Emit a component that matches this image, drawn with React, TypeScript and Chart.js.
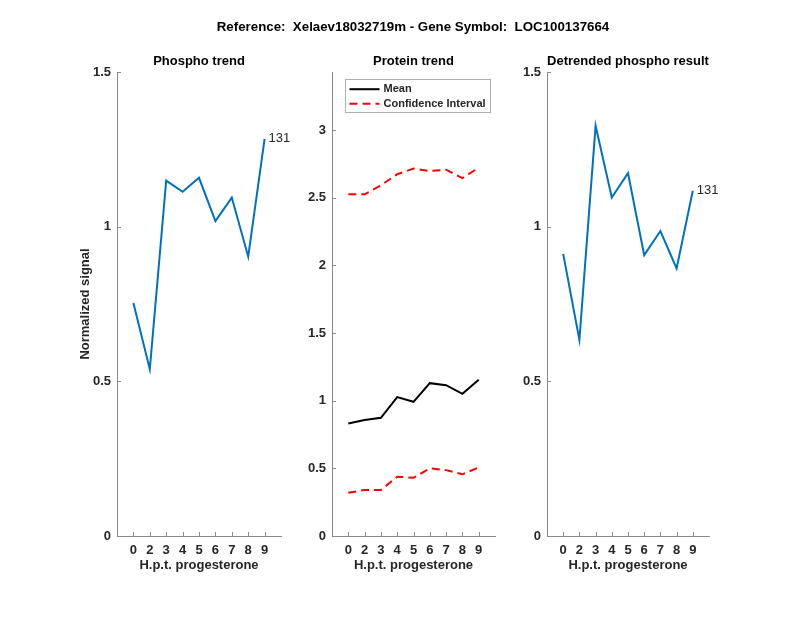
import React, { useEffect, useRef } from 'react';
import { Chart, registerables } from 'chart.js';

Chart.register(...registerables);

// ---------- data ----------
const categories = ['0', '2', '3', '4', '5', '6', '7', '8', '9'];
const phospho = [0.753, 0.539, 1.149, 1.113, 1.158, 1.018, 1.094, 0.903, 1.284];
const proteinMean = [0.832, 0.857, 0.874, 1.027, 0.992, 1.13, 1.115, 1.051, 1.155];
const ciUpper = [2.526, 2.526, 2.592, 2.674, 2.716, 2.698, 2.708, 2.646, 2.723];
const ciLower = [0.32, 0.34, 0.34, 0.438, 0.431, 0.5, 0.487, 0.456, 0.507];
const detrended = [0.912, 0.634, 1.326, 1.094, 1.173, 0.908, 0.986, 0.865, 1.116];
const signalTicks = [0, 0.5, 1, 1.5];
const proteinTicks = [0, 0.5, 1, 1.5, 2, 2.5, 3];
const signalMax = 1.5;
const proteinMax = 3.43;
const suptitle = 'Reference:  Xelaev18032719m - Gene Symbol:  LOC100137664';
const panelTitles = ['Phospho trend', 'Protein trend', 'Detrended phospho result'];
const xTitle = 'H.p.t. progesterone';
const yTitle = 'Normalized signal';
const peptideLabel = '131';
const legendLabels = ['Mean', 'Confidence Interval'];

// ---------- style / layout ----------
const W = 800;
const H = 618;
const FONT = '"Liberation Sans", Arial, Helvetica, sans-serif';
const TEXT = '#262626';
const AXIS = '#8a8a8a';
const BLUE = '#0072BD';
const RED = '#FF0000';
const BLACK = '#000000';
const CHART_TOP = 72;
const CHART_BOTTOM = 536;
const Y_AXIS_W = 60;
const X_AXIS_H = 50;
const panels = [
  { left: 117, right: 281 },
  { left: 332, right: 495 },
  { left: 547, right: 709 },
];

const inwardTicks = {
  id: 'inwardTicks',
  afterDraw(chart: any) {
    const { ctx, chartArea, scales } = chart;
    ctx.save();
    ctx.strokeStyle = AXIS;
    ctx.lineWidth = 1;
    ctx.beginPath();
    scales.x.ticks.forEach((t: any) => {
      const px = Math.round(scales.x.getPixelForValue(t.value)) + 0.5;
      ctx.moveTo(px, chartArea.bottom);
      ctx.lineTo(px, chartArea.bottom - 4);
    });
    scales.y.ticks.forEach((t: any) => {
      const py = Math.round(scales.y.getPixelForValue(t.value)) + 0.5;
      ctx.moveTo(chartArea.left, py);
      ctx.lineTo(chartArea.left + 4, py);
    });
    ctx.stroke();
    ctx.restore();
  },
};

const endLabel = {
  id: 'endLabel',
  afterDatasetsDraw(chart: any, _args: any, opts: any) {
    if (!opts || !opts.text) return;
    const meta = chart.getDatasetMeta(0);
    const pt = meta.data[meta.data.length - 1];
    if (!pt) return;
    const { ctx } = chart;
    ctx.save();
    ctx.font = `13px ${FONT}`;
    ctx.fillStyle = TEXT;
    ctx.textAlign = 'left';
    ctx.textBaseline = 'middle';
    ctx.fillText(opts.text, pt.x + 4, pt.y);
    ctx.restore();
  },
};

const boxLegend = {
  id: 'boxLegend',
  afterDraw(chart: any, _args: any, opts: any) {
    if (!opts || !opts.items) return;
    const { ctx, chartArea } = chart;
    const items = opts.items as { label: string; color: string; dash: number[] }[];
    ctx.save();
    ctx.font = `bold 11px ${FONT}`;
    const tw = Math.max(...items.map((it) => ctx.measureText(it.label).width));
    const bx = chartArea.left + 13.5;
    const by = chartArea.top + 7.5;
    const bw = Math.round(38 + tw + 5);
    const bh = 33;
    ctx.fillStyle = '#ffffff';
    ctx.fillRect(bx, by, bw, bh);
    ctx.strokeStyle = '#b0b0b0';
    ctx.lineWidth = 1;
    ctx.strokeRect(bx, by, bw, bh);
    items.forEach((it, i) => {
      const y = by + 9.7 + i * 14.6;
      ctx.strokeStyle = it.color;
      ctx.lineWidth = 2;
      ctx.setLineDash(it.dash);
      ctx.beginPath();
      ctx.moveTo(bx + 4, y);
      ctx.lineTo(bx + 34, y);
      ctx.stroke();
      ctx.setLineDash([]);
      ctx.fillStyle = TEXT;
      ctx.textAlign = 'left';
      ctx.textBaseline = 'middle';
      ctx.fillText(it.label, bx + 38, y);
    });
    ctx.restore();
  },
};

const toPoints = (vals: number[]) => categories.map((_, i) => ({ x: i, y: vals[i] }));

function makeConfig(
  idx: number,
  datasets: any[],
  yMax: number,
  yTicks: number[],
  extra: { endText?: string; legendItems?: any[]; yLabel?: string }
) {
  const p = panels[idx];
  const tickFont = { family: FONT, size: 13, weight: 'bold' as const };
  const noGrid = { display: false, drawTicks: false, tickLength: 0 };
  return {
    type: 'line' as const,
    data: { datasets },
    plugins: [inwardTicks, endLabel, boxLegend],
    options: {
      responsive: false,
      animation: false as const,
      devicePixelRatio: 1,
      events: [],
      layout: {
        padding: {
          left: p.left - Y_AXIS_W,
          right: W - p.right,
          top: CHART_TOP,
          bottom: H - CHART_BOTTOM - X_AXIS_H,
        },
      },
      elements: { point: { radius: 0 }, line: { tension: 0 } },
      plugins: {
        legend: { display: false },
        tooltip: { enabled: false },
        title: { display: false },
        endLabel: extra.endText ? { text: extra.endText } : {},
        boxLegend: extra.legendItems ? { items: extra.legendItems } : {},
      },
      scales: {
        x: {
          type: 'linear' as const,
          min: -1,
          max: categories.length,
          afterBuildTicks: (s: any) => {
            s.ticks = categories.map((_, i) => ({ value: i }));
          },
          afterFit: (s: any) => {
            s.height = X_AXIS_H;
          },
          ticks: {
            autoSkip: false,
            maxRotation: 0,
            padding: 7,
            color: TEXT,
            font: tickFont,
            callback: (v: any) => categories[v] ?? '',
          },
          grid: noGrid,
          border: { display: true, color: AXIS, width: 1 },
          title: {
            display: true,
            text: xTitle,
            color: TEXT,
            font: tickFont,
            padding: { top: 0, bottom: 12.7 },
          },
        },
        y: {
          type: 'linear' as const,
          min: 0,
          max: yMax,
          afterBuildTicks: (s: any) => {
            s.ticks = yTicks.map((v) => ({ value: v }));
          },
          afterFit: (s: any) => {
            s.width = Y_AXIS_W;
          },
          ticks: {
            padding: 6,
            color: TEXT,
            font: tickFont,
            callback: (v: any) => String(v),
          },
          grid: noGrid,
          border: { display: true, color: AXIS, width: 1 },
          title: {
            display: !!extra.yLabel,
            text: extra.yLabel || '',
            color: TEXT,
            font: tickFont,
            padding: { top: 20.2, bottom: 0 },
          },
        },
      },
    },
  };
}

function Panel({ config }: { config: any }) {
  const ref = useRef<HTMLCanvasElement | null>(null);
  useEffect(() => {
    if (!ref.current) return;
    const chart = new Chart(ref.current, config);
    return () => chart.destroy();
  }, [config]);
  return (
    <canvas
      ref={ref}
      width={W}
      height={H}
      style={{ position: 'absolute', left: 0, top: 0, width: W, height: H }}
    />
  );
}

const configs = [
  makeConfig(
    0,
    [{ label: 'Phospho', data: toPoints(phospho), borderColor: BLUE, borderWidth: 2 }],
    signalMax,
    signalTicks,
    { endText: peptideLabel, yLabel: yTitle }
  ),
  makeConfig(
    1,
    [
      { label: legendLabels[0], data: toPoints(proteinMean), borderColor: BLACK, borderWidth: 2 },
      { label: legendLabels[1], data: toPoints(ciUpper), borderColor: RED, borderWidth: 2, borderDash: [8, 5] },
      { label: legendLabels[1], data: toPoints(ciLower), borderColor: RED, borderWidth: 2, borderDash: [8, 5] },
    ],
    proteinMax,
    proteinTicks,
    {
      legendItems: [
        { label: legendLabels[0], color: BLACK, dash: [] },
        { label: legendLabels[1], color: RED, dash: [8, 5] },
      ],
    }
  ),
  makeConfig(
    2,
    [{ label: 'Detrended', data: toPoints(detrended), borderColor: BLUE, borderWidth: 2 }],
    signalMax,
    signalTicks,
    { endText: peptideLabel }
  ),
];

const titleStyle = (center: number, top: number, size = 13): React.CSSProperties => ({
  position: 'absolute',
  left: center - 250,
  width: 500,
  top,
  textAlign: 'center',
  font: `bold ${size}px ${FONT}`,
  lineHeight: '16px',
  color: '#000',
  whiteSpace: 'pre',
});

export default function App() {
  return (
    <div style={{ position: 'absolute', left: 0, top: 0, width: W, height: H, background: '#fff', overflow: 'hidden' }}>
      {configs.map((c, i) => (
        <Panel key={i} config={c} />
      ))}
      <div style={titleStyle(413, 18.6, 13.3)}>{suptitle}</div>
      {panelTitles.map((t, i) => (
        <div key={t} style={titleStyle((panels[i].left + panels[i].right) / 2, 52.6)}>
          {t}
        </div>
      ))}
    </div>
  );
}
